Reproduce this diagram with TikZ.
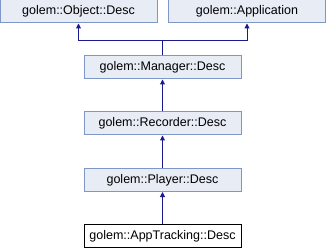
\documentclass[tikz,border=0pt]{standalone}
\usepackage{fontspec}
\setmainfont{Liberation Sans}
\usetikzlibrary{arrows.meta}
\definecolor{boxfill}{HTML}{E8ECF5}
\definecolor{boxline}{HTML}{7F96C8}
\definecolor{edgeblue}{HTML}{1A1A8C}
\tikzset{
  cls/.style={draw=boxline, fill=boxfill, line width=1pt, minimum width=157pt,
    minimum height=23pt, inner sep=0pt, font=\fontsize{12.5}{14}\selectfont},
  self/.style={cls, draw=black, fill=white},
  inherit/.style={draw=edgeblue, line width=1pt, -{Triangle[length=5pt,width=5pt]}}
}
\begin{document}
\begin{tikzpicture}[x=1pt,y=-1pt]
\useasboundingbox (0,0) rectangle (326,248);
\node[cls] (objdesc) at (78.5,11.5){golem::Object::Desc};
\node[cls] (app) at (247,11.5){golem::Application};
\node[cls] (mgrdesc) at (162.5,67.5){golem::Manager::Desc};
\node[cls] (recdesc) at (162.5,123.5){golem::Recorder::Desc};
\node[cls] (plydesc) at (162.5,180){golem::Player::Desc};
\node[self] (trkdesc) at (162.5,236){golem::AppTracking::Desc};
\coordinate (split) at (162.5,41);
\draw[draw=edgeblue, line width=1pt](mgrdesc) -- (split);
\draw[inherit](split) -| (objdesc);
\draw[inherit](split) -| (app);
\draw[inherit](recdesc) -- (mgrdesc);
\draw[inherit](plydesc) -- (recdesc);
\draw[inherit](trkdesc) -- (plydesc);
\end{tikzpicture}
\end{document}
